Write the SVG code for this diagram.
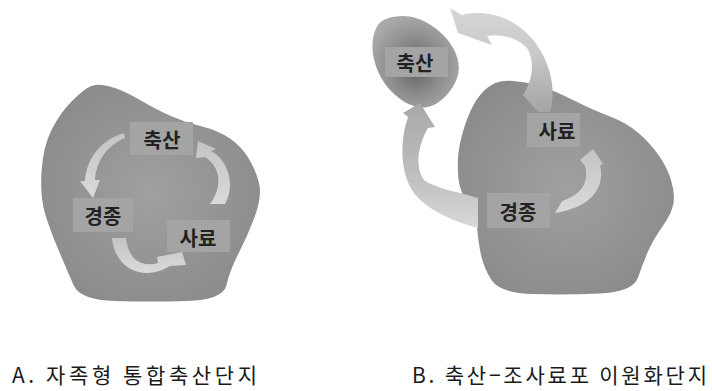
<svg xmlns="http://www.w3.org/2000/svg" width="712" height="391" viewBox="0 0 712 391">
<defs>
<radialGradient id="gBlob" cx="0.5" cy="0.5" r="0.6">
<stop offset="0" stop-color="#a0a0a0"/>
<stop offset="1" stop-color="#8a8a8a"/>
</radialGradient>
<radialGradient id="gSmall" cx="0.5" cy="0.55" r="0.55">
<stop offset="0" stop-color="#5e5e5e"/>
<stop offset="0.55" stop-color="#8c8c8c"/>
<stop offset="1" stop-color="#a8a8a8"/>
</radialGradient>
<linearGradient id="gR1" x1="0" y1="0" x2="0" y2="1">
<stop offset="0" stop-color="#d6d6d6"/>
<stop offset="0.45" stop-color="#c8c8c8"/>
<stop offset="1" stop-color="#a4a4a4"/>
</linearGradient>
<linearGradient id="gR2" x1="0" y1="0" x2="0" y2="1">
<stop offset="0" stop-color="#a8a8a8"/>
<stop offset="0.55" stop-color="#bdbdbd"/>
<stop offset="1" stop-color="#d8d8d8"/>
</linearGradient>
<linearGradient id="gArr" x1="0" y1="0" x2="0" y2="1">
<stop offset="0" stop-color="#c4c4c4"/>
<stop offset="1" stop-color="#dadada"/>
</linearGradient>
</defs>
<style>
.blob{fill:url(#gBlob)}
.box{fill:#a4a4a4}
.lbl{font-family:"Noto Sans CJK KR","Noto Sans",sans-serif;font-size:20px;font-weight:bold;fill:#222;text-anchor:middle;dominant-baseline:central}
.cap{font-family:"Noto Sans CJK KR","Noto Sans",sans-serif;font-size:21px;fill:#1a1a1a}
.arr{fill:url(#gArr)}
</style>

<g id="blobA">
<path class="blob" d="M 90,86.5 Q 97,83 110,86.5 Q 123,90 140,100 Q 157,110 172,116.5 Q 187,123 202,126.5 Q 217,130 230,138.5 Q 243,147 251.5,163.5 Q 260,180 260,191.5 Q 260,203 253.5,220 Q 247,237 238.5,253.5 Q 230,270 226.5,285 Q 223,300 186.5,301 Q 150,302 115,301 Q 80,300 73.5,285 Q 67,270 58.5,250 Q 50,230 45,213.5 Q 40,197 41.5,172 Q 43,147 51.5,130 Q 60,113 71.5,101.5 Q 83,90 90,86.5 Z"/>
</g>
<g id="blobB">
<path class="blob" d="M 513.5,81 Q 527,82 540,86 Q 553,90 573,100 Q 593,110 610,116.5 Q 627,123 638.5,133 Q 650,143 658.5,155 Q 667,167 671,180 Q 675,193 673.5,203 Q 672,213 662.5,226.5 Q 653,240 648,251.5 Q 643,263 638,277.5 Q 633,292 599,293.5 Q 565,295 532.5,294 Q 500,293 491.5,280 Q 483,267 480,250 Q 477,233 477,223 Q 477,213 468.5,203 Q 460,193 458.5,179 Q 457,165 458.5,152.5 Q 460,140 465,125 Q 470,110 476.5,100 Q 483,90 491.5,85 Q 500,80 513.5,81 Z"/>
</g>
<g id="blobB-small">
<path fill="url(#gSmall)" d="M 390,17.5 Q 400,15 410,16.5 Q 420,18 431.5,25.5 Q 443,33 450,43 Q 457,53 458.5,63 Q 460,73 455,83 Q 450,93 441.5,100 Q 433,107 425,107.5 Q 417,108 408.5,104 Q 400,100 391.5,91.5 Q 383,83 378,71.5 Q 373,60 372.5,48.5 Q 372,37 376,28.5 Q 380,20 390,17.5 Z"/>
</g>

<g id="connectors">
<path class="arr" d="M 124,133 C 100,140 86,160 85,181 L 80,181 L 93,198 L 100,180 L 95,180 C 96,162 106,146 125,138 Z"/>
<path class="arr" d="M 112,238 L 126,238 C 128,258 140,268 158,263 L 157,257 L 182,252 L 186,265 L 170,266 C 145,282 115,270 112,238 Z"/>
<path class="arr" d="M 198,141 L 216,149 L 211,151 C 228,160 236,185 225,204 L 210,204 C 222,188 222,168 205,157 L 196,158 Z"/>
<path fill="url(#gR1)" d="M 450,8 L 462,15 C 490,8 525,20 543,55 C 553,75 555,95 550,112 L 538,112 L 523,95 C 533,80 535,60 527,48 C 518,38 500,33 487,36 L 492,45 L 458,33 Z"/>
<path fill="url(#gR2)" d="M 420,103 L 435,127 L 428,128 C 418,145 414,168 425,181 C 440,190 460,192 478,198 L 478,228 C 455,222 425,210 412,190 C 400,170 400,140 408,117 L 403,113 Z"/>
<path class="arr" d="M 593,149 L 603,164 L 600,165 C 606,190 588,208 555,213 L 562,201 C 578,196 590,185 585,166 L 580,160 Z"/>
</g>

<g id="A-livestock"><rect class="box" x="130" y="122" width="63" height="33"/><text class="lbl" x="162" y="139">축산</text></g>
<g id="A-crop"><rect class="box" x="73" y="198" width="60" height="34"/><text class="lbl" x="103" y="215">경종</text></g>
<g id="A-feed"><rect class="box" x="167" y="220" width="63" height="32"/><text class="lbl" x="198" y="237">사료</text></g>

<g id="B-livestock"><rect class="box" x="385" y="47" width="63" height="30"/><text class="lbl" x="415" y="62">축산</text></g>
<g id="B-feed"><rect class="box" x="527" y="113" width="53" height="34"/><text class="lbl" x="557" y="130">사료</text></g>
<g id="B-crop"><rect class="box" x="487" y="193" width="63" height="35"/><text class="lbl" x="518" y="211">경종</text></g>

<text class="cap" x="12" y="383" textLength="245" lengthAdjust="spacing">A. 자족형  통합축산단지</text>
<text class="cap" x="412" y="383" textLength="295" lengthAdjust="spacing">B. 축산−조사료포  이원화단지</text>
</svg>
